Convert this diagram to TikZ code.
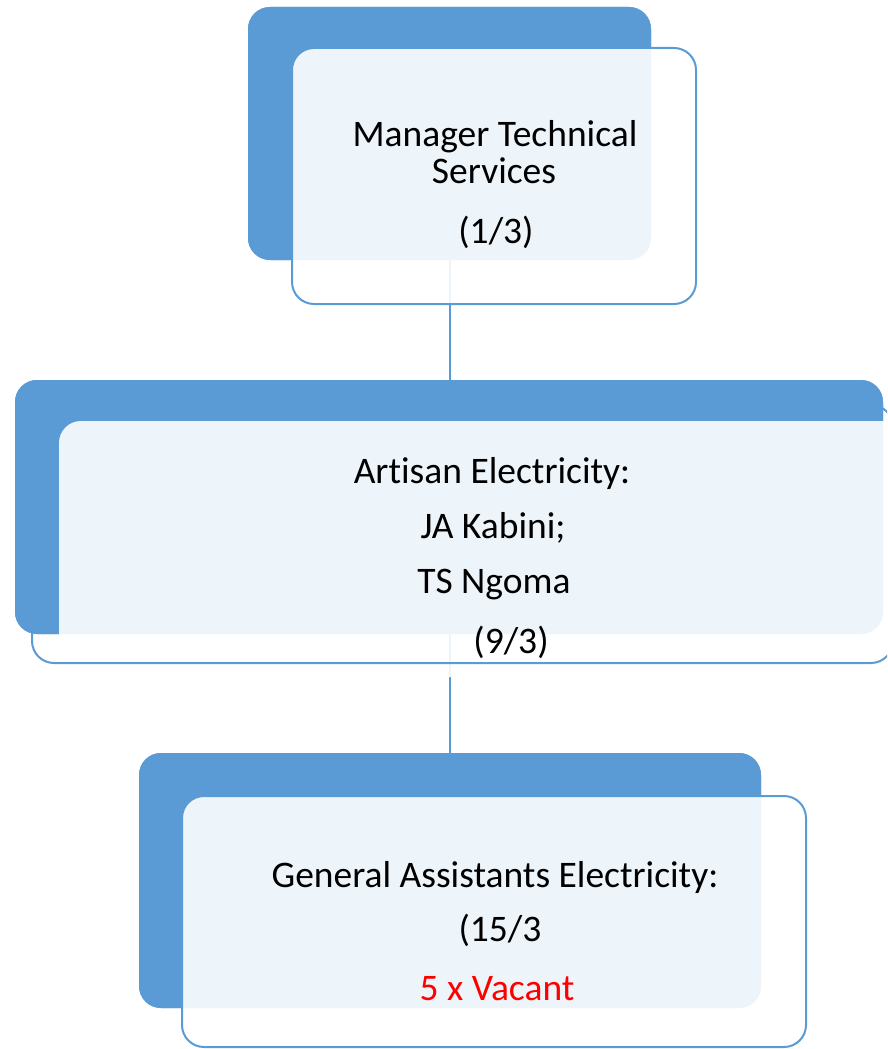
\documentclass[tikz,border=0pt]{standalone}
\usepackage{fontspec}
\setmainfont{Carlito}[Ligatures=NoCommon]
\definecolor{accent}{HTML}{5B9BD5}
\definecolor{vacant}{HTML}{FF0000}
\begin{document}
\begin{tikzpicture}[x=1pt,y=-1pt,
  backbox/.style={fill=accent, draw=none, rounded corners=22pt, inner sep=0pt, outer sep=0pt},
  frontbox/.style={fill=white, fill opacity=0.9, draw=accent, draw opacity=1, line width=2pt,
                   rounded corners=22pt, inner sep=0pt, outer sep=0pt},
  link/.style={draw=accent, line width=2pt},
  txt/.style={anchor=base, inner sep=0pt, font=\fontsize{37.5}{45}\selectfont, text=black}
]
\useasboundingbox (0,0) rectangle (887,1049);
\clip (0,0) rectangle (887,1049);

% back panels (named so the connectors can attach to them)
\path (449.5,133.5) node[backbox, minimum width=403pt, minimum height=253pt] (b1) {};
\path (449,507)     node[backbox, minimum width=868pt, minimum height=254pt] (b2) {};
\path (450,880.5)   node[backbox, minimum width=622pt, minimum height=255pt] (b3) {};

% connectors, drawn before the panels are painted again on top
\draw[link] (b1.south) -- (b1.south |- b2.north);
\draw[link] (b3.north |- b2.south) -- (b3.north);

% back panels painted over the connector ends
\fill[accent, rounded corners=22pt] (b1.south west) rectangle (b1.north east);
\fill[accent, rounded corners=22pt] (b2.south west) rectangle (b2.north east);
\fill[accent, rounded corners=22pt] (b3.south west) rectangle (b3.north east);

% front cards
\path (494,176)   node[frontbox, minimum width=404pt, minimum height=256pt] (f1) {};
\fill[white, fill opacity=0.9, rounded corners=22pt] (59,421) rectangle (910,677);
\draw[accent, line width=2pt, rounded corners=22pt] (32,405) rectangle (893,663);
\path (494,921.5) node[frontbox, minimum width=624pt, minimum height=251pt] (f3) {};

% texts
\node[txt] (m1) at (495,146) {Manager Technical};
\node[txt] (m2) at (494,183) {Services};
\node[txt] (m3) at (496,243) {(1/3)};

\node[txt] (a1) at (492,483) {Artisan Electricity:};
\node[txt] (a2) at (493,538) {JA Kabini;};
\node[txt] (a3) at (494,593) {TS Ngoma};
\node[txt] (a4) at (511,653) {(9/3)};

\node[txt] (g1) at (495,887) {General Assistants Electricity:};
\node[txt] (g2) at (500,941) {(15/3};
\node[txt, text=vacant] (g3) at (497,1000) {5 x Vacant};
\end{tikzpicture}
\end{document}
